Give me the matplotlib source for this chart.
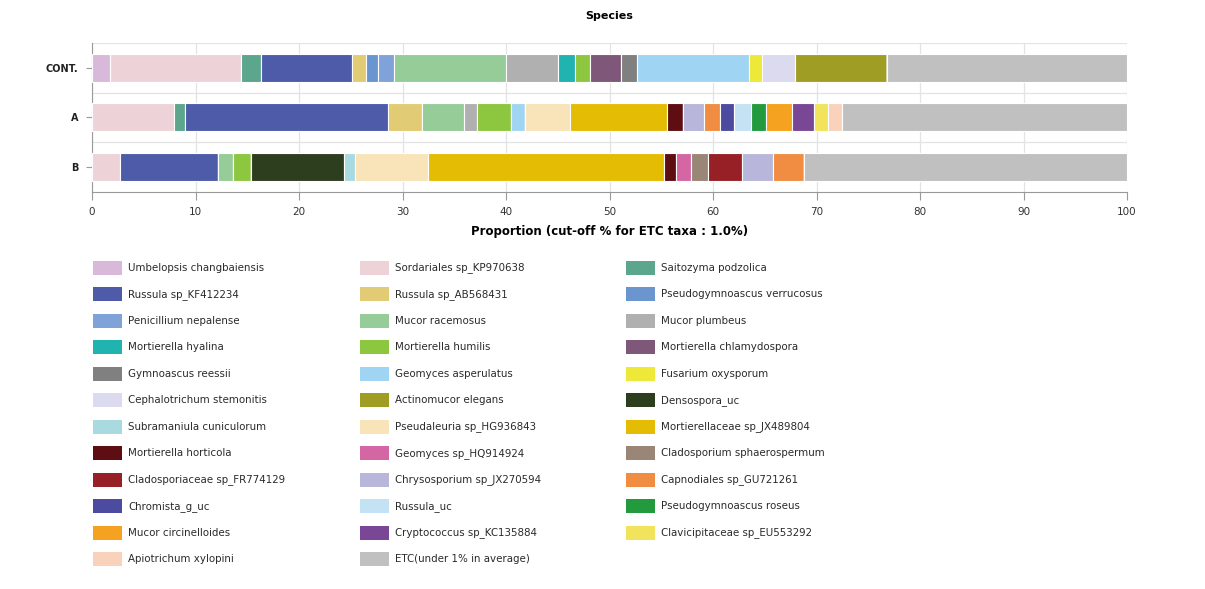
import matplotlib
matplotlib.use("Agg")
import matplotlib.pyplot as plt
from matplotlib.patches import Rectangle

plt.rcParams['font.family'] = ['DejaVu Sans']

samples = ["CONT.", "A", "B"]

species = [
    "Umbelopsis changbaiensis", "Sordariales sp_KP970638", "Saitozyma podzolica",
    "Russula sp_KF412234", "Russula sp_AB568431", "Pseudogymnoascus verrucosus",
    "Penicillium nepalense", "Mucor racemosus", "Mucor plumbeus",
    "Mortierella hyalina", "Mortierella humilis", "Mortierella chlamydospora",
    "Gymnoascus reessii", "Geomyces asperulatus", "Fusarium oxysporum",
    "Cephalotrichum stemonitis", "Actinomucor elegans", "Densospora_uc",
    "Subramaniula cuniculorum", "Pseudaleuria sp_HG936843", "Mortierellaceae sp_JX489804",
    "Mortierella horticola", "Geomyces sp_HQ914924", "Cladosporium sphaerospermum",
    "Cladosporiaceae sp_FR774129", "Chrysosporium sp_JX270594", "Capnodiales sp_GU721261",
    "Chromista_g_uc", "Russula_uc", "Pseudogymnoascus roseus",
    "Mucor circinelloides", "Cryptococcus sp_KC135884", "Clavicipitaceae sp_EU553292",
    "Apiotrichum xylopini", "ETC(under 1% in average)",
]

colors = [
    "#D8B9DA", "#EDD3D8", "#5BA68D",
    "#4D5BA8", "#E1CB74", "#6B95CF",
    "#7FA2D8", "#96CC97", "#B0B0B0",
    "#20B3B0", "#8DC63F", "#7F5779",
    "#808080", "#9FD5F3", "#EEE838",
    "#DCDAEE", "#A09D24", "#2D3E1F",
    "#A8DADF", "#F9E4BA", "#E4BC04",
    "#5E0E13", "#D466A3", "#9A8676",
    "#962025", "#B8B6DA", "#F08D43",
    "#4D4BA0", "#C3E3F5", "#239A3E",
    "#F4A21F", "#7A4797", "#F1E45C",
    "#F9D2BC", "#C0C0C0",
]

cont = [1.7, 12.7, 1.9, 8.8, 1.4, 1.1, 1.6, 10.8, 5.0, 1.7, 1.4, 3.0, 1.6, 10.8,
        1.2, 3.2, 8.9, 0, 0, 0, 0, 0, 0, 0, 0, 0, 0, 0, 0, 0, 0, 0, 0, 0, 23.2]
a_vals = [0, 7.9, 1.1, 19.6, 3.3, 0, 0, 4.0, 1.3, 0, 3.3, 0, 0, 1.3, 0, 0, 0, 0,
          0, 4.4, 9.4, 1.5, 0, 0, 0, 2.0, 1.6, 1.3, 1.7, 1.4, 2.5, 2.2, 1.3, 1.4, 27.5]
b_vals = [0, 2.7, 0, 9.5, 0, 0, 0, 1.45, 0, 0, 1.75, 0, 0, 0, 0, 0, 0, 8.9,
          1.1, 7.1, 22.8, 1.1, 1.5, 1.6, 3.3, 3.0, 3.0, 0, 0, 0, 0, 0, 0, 0, 31.2]

values = [cont, a_vals, b_vals]

W, H = 1205, 589
fig = plt.figure(figsize=(W / 100, H / 100), dpi=100)
ax = fig.add_axes([92 / W, 1 - 191.5 / H, (1127 - 92) / W, (191.5 - 43) / H])

ypos = list(range(len(samples)))
lefts = [0.0] * len(samples)
for k, (name, col) in enumerate(zip(species, colors)):
    widths = [values[i][k] for i in range(len(samples))]
    ax.barh(ypos, widths, left=lefts, height=0.56, color=col,
            edgecolor="white", linewidth=0.8, zorder=3)
    lefts = [l + w for l, w in zip(lefts, widths)]

ax.set_xlim(0, 100)
ax.set_ylim(2.5, -0.5)
ax.set_yticks(ypos)
ax.set_yticklabels(samples, fontsize=7, fontweight="bold", color="#222222")
ax.set_xticks(range(0, 101, 10))
ax.tick_params(axis="x", labelsize=7.5, length=6, color="#999999", pad=5, labelcolor="#333333")
ax.tick_params(axis="y", length=4, color="#999999", pad=6)
ax.grid(axis="x", color="#E3E3E3", linewidth=0.9, zorder=0)
for yb in [-0.5, 0.5, 1.5]:
    ax.axhline(yb, color="#E3E3E3", linewidth=0.9, zorder=0)
for s in ["top", "right"]:
    ax.spines[s].set_visible(False)
ax.spines["left"].set_color("#999999")
ax.spines["bottom"].set_color("#999999")
ax.set_xlabel("Proportion (cut-off % for ETC taxa : 1.0%)", fontsize=8.5,
              fontweight="bold", labelpad=6)
ax.set_title("Species", fontsize=8, fontweight="bold", pad=17)

# legend (row-major, 3 columns)
col_x = [93, 360, 626]
row_y0 = 268
row_dy = 26.45
for i, (name, col) in enumerate(zip(species, colors)):
    r, c = divmod(i, 3)
    x = col_x[c]
    y = row_y0 + r * row_dy
    fig.add_artist(Rectangle((x / W, 1 - (y + 7) / H), 29 / W, 14 / H,
                             transform=fig.transFigure, facecolor=col, edgecolor="none"))
    fig.text((x + 35) / W, 1 - y / H, name, fontsize=7.4, color="#2a2a2a",
             va="center", ha="left")

fig.savefig("out.png", dpi=100, facecolor="white")
